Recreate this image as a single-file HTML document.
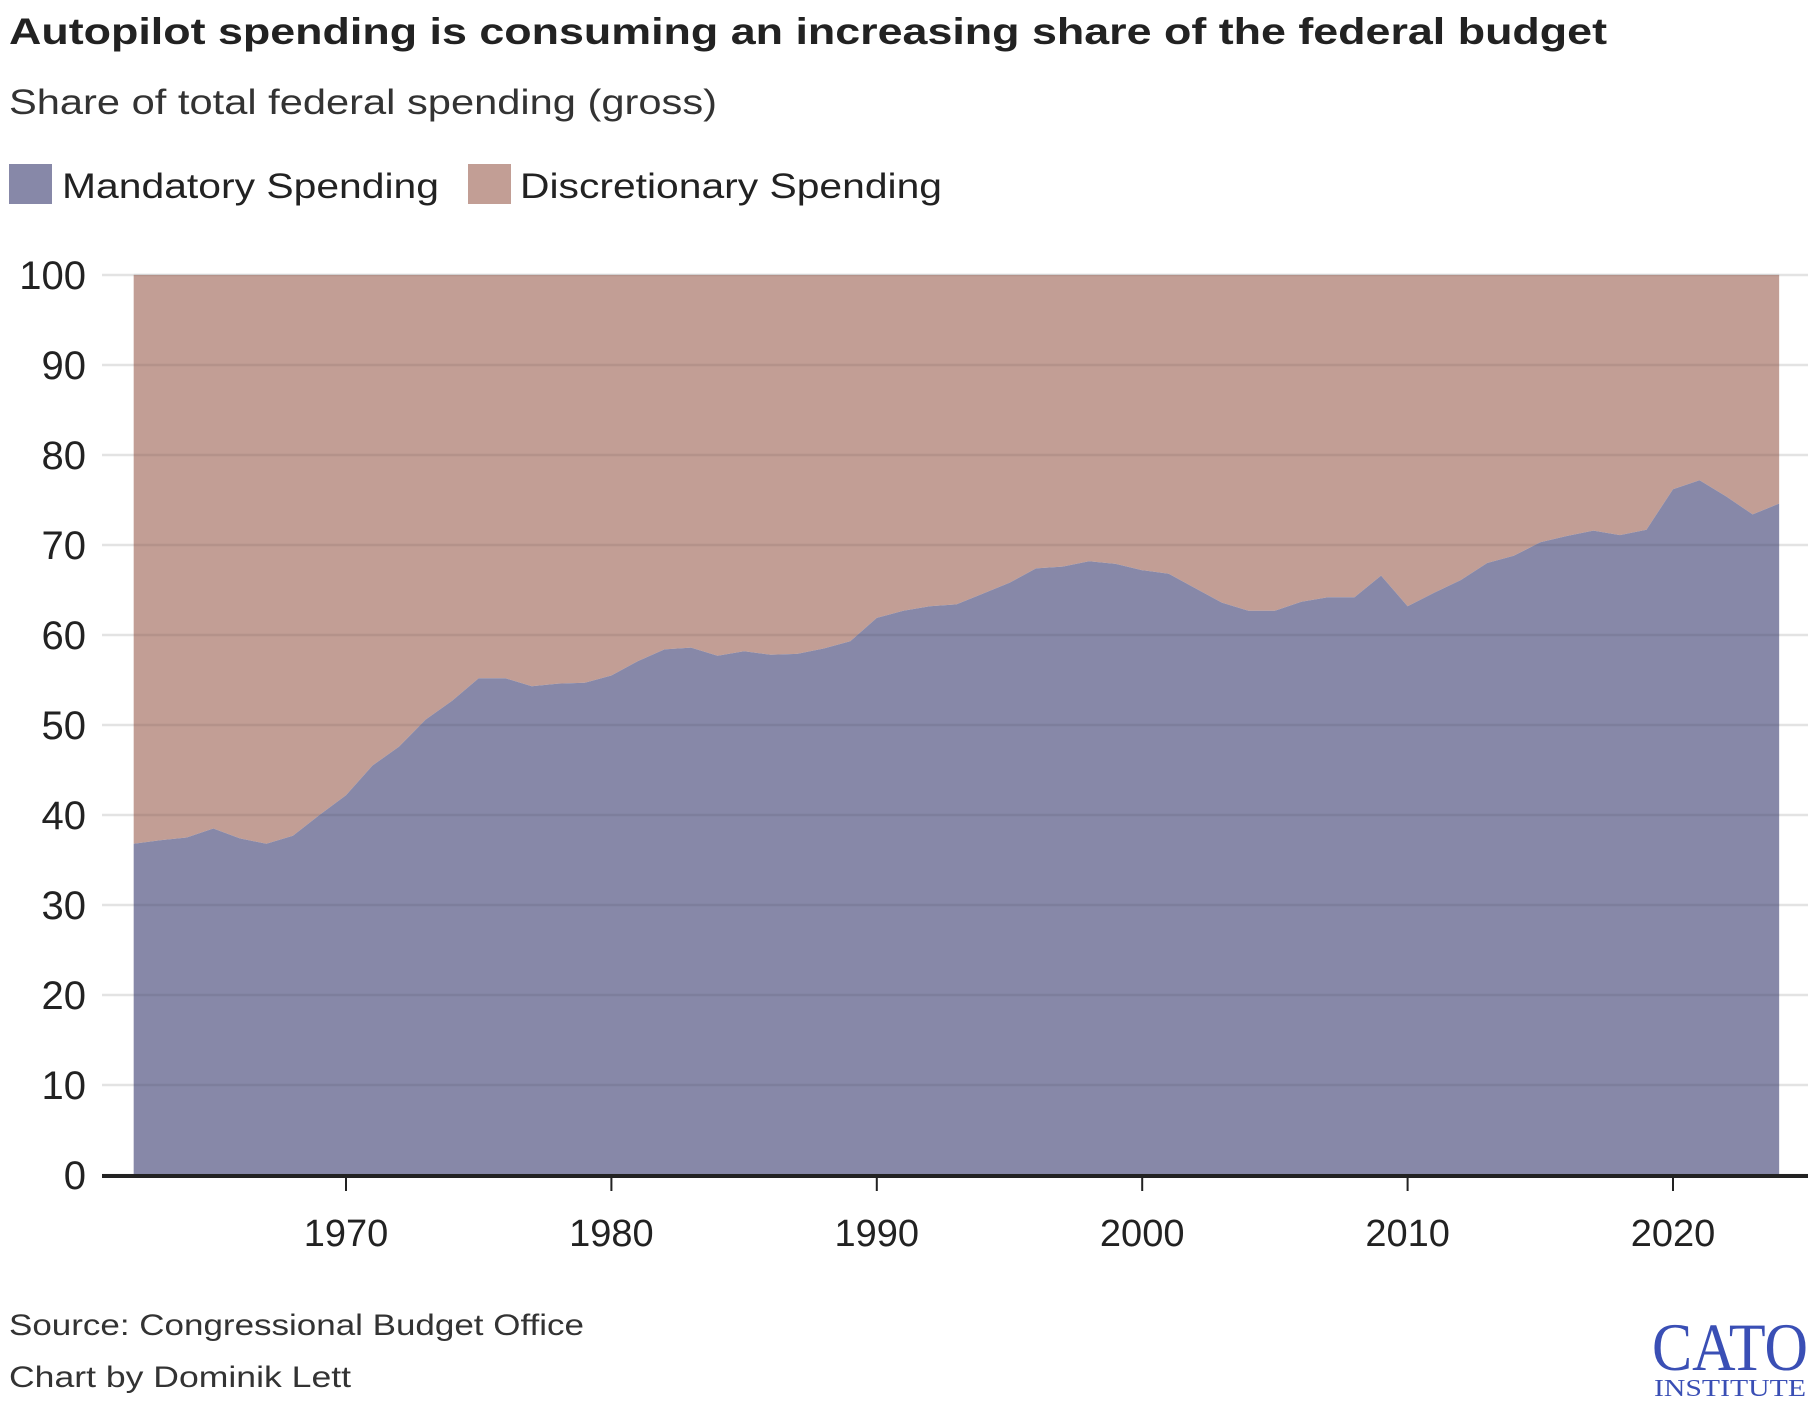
<!DOCTYPE html>
<html><head><meta charset="utf-8"><style>
html,body{margin:0;padding:0;background:#fff}
svg{display:block;font-family:"Liberation Sans",sans-serif}
</style></head><body>
<svg id="chart" width="1820" height="1409" viewBox="0 0 1820 1409" xmlns="http://www.w3.org/2000/svg">
<text x="9" y="44" font-size="37" font-weight="bold" fill="#222" textLength="1598" lengthAdjust="spacingAndGlyphs">Autopilot spending is consuming an increasing share of the federal budget</text>
<text x="9" y="114" font-size="35" fill="#333" textLength="708" lengthAdjust="spacingAndGlyphs">Share of total federal spending (gross)</text>
<g>
<rect x="9" y="164" width="43" height="40" fill="#8788a8"/>
<text x="62" y="198" font-size="35" fill="#222" textLength="377" lengthAdjust="spacingAndGlyphs">Mandatory Spending</text>
<rect x="468" y="164" width="43" height="40" fill="#c29e95"/>
<text x="520" y="198" font-size="35" fill="#222" textLength="422" lengthAdjust="spacingAndGlyphs">Discretionary Spending</text>
</g>
<g id="grid"></g>
<g id="areas"></g>
<g id="overgrid"></g>
<g id="axes"></g>
<text x="9" y="1335" font-size="30" fill="#333" textLength="575" lengthAdjust="spacingAndGlyphs">Source: Congressional Budget Office</text>
<text x="9" y="1387" font-size="30" fill="#333" textLength="342" lengthAdjust="spacingAndGlyphs">Chart by Dominik Lett</text>
<g>
<text x="1652" y="1370" font-family="Liberation Serif,serif" font-size="68" fill="#3a4fb5" textLength="156" lengthAdjust="spacingAndGlyphs">CATO</text>
<text x="1654" y="1396" font-family="Liberation Serif,serif" font-size="24" fill="#3a4fb5" textLength="152" lengthAdjust="spacingAndGlyphs">INSTITUTE</text>
</g>
</svg>
<script>
const years = [1962,1963,1964,1965,1966,1967,1968,1969,1970,1971,1972,1973,1974,1975,1976,1977,1978,1979,1980,1981,1982,1983,1984,1985,1986,1987,1988,1989,1990,1991,1992,1993,1994,1995,1996,1997,1998,1999,2000,2001,2002,2003,2004,2005,2006,2007,2008,2009,2010,2011,2012,2013,2014,2015,2016,2017,2018,2019,2020,2021,2022,2023,2024];
const mandatory = [36.8,37.2,37.5,38.5,37.4,36.8,37.7,40.0,42.2,45.5,47.6,50.6,52.7,55.2,55.2,54.3,54.6,54.7,55.5,57.1,58.4,58.6,57.7,58.2,57.8,57.9,58.5,59.3,61.9,62.7,63.2,63.4,64.6,65.8,67.4,67.6,68.2,67.9,67.2,66.8,65.2,63.6,62.7,62.7,63.7,64.2,64.2,66.6,63.2,64.7,66.1,68.0,68.8,70.3,71.0,71.6,71.1,71.7,76.2,77.2,75.4,73.4,74.6];
const yTicks = [0,10,20,30,40,50,60,70,80,90,100];
const xTicks = [1970,1980,1990,2000,2010,2020];
const NS="http://www.w3.org/2000/svg";
const X0=102,X1=1808;
function xs(yr){return 346+(yr-1970)*(1673-346)/50;}
function ys(v){return 1175-v*9;}
function mk(tag,attrs,parent){const e=document.createElementNS(NS,tag);for(const k in attrs)e.setAttribute(k,attrs[k]);parent.appendChild(e);return e;}
const gridG=document.getElementById('grid'),areasG=document.getElementById('areas'),overG=document.getElementById('overgrid'),axesG=document.getElementById('axes');
const firstX=xs(years[0]),lastX=xs(years[years.length-1]);
yTicks.forEach(t=>{
  const l=mk('line',{x1:X0,x2:X1,y1:ys(t),y2:ys(t),stroke:'#e3e3e3','stroke-width':2.5},gridG);
  
  
  const o=mk('line',{x1:firstX,x2:lastX,y1:ys(t),y2:ys(t),stroke:'rgba(0,0,0,0.07)','stroke-width':2.5},overG);
  
  
  const tx=mk('text',{x:86,y:ys(t)+14,'text-anchor':'end','font-size':40,fill:'#222'},axesG);
  tx.textContent=t;
  
  
});
let discPath='M'+firstX+','+ys(100)+' L'+lastX+','+ys(100);
for(let i=years.length-1;i>=0;i--)discPath+=' L'+xs(years[i])+','+ys(mandatory[i]);
const disc=mk('path',{d:discPath+' Z',fill:'#c29e95'},areasG);


let manPath='M'+firstX+','+ys(0);
for(let i=0;i<years.length;i++)manPath+=' L'+xs(years[i])+','+ys(mandatory[i]);
manPath+=' L'+lastX+','+ys(0)+' Z';
const man=mk('path',{d:manPath,fill:'#8788a8'},areasG);


const ax=mk('line',{x1:X0,x2:X1,y1:ys(0)+1,y2:ys(0)+1,stroke:'#222','stroke-width':4},axesG);


xTicks.forEach(t=>{
  const tk=mk('line',{x1:xs(t),x2:xs(t),y1:ys(0)+2,y2:ys(0)+16,stroke:'#222','stroke-width':2},axesG);
  
  
  const tx=mk('text',{x:xs(t),y:1246,'text-anchor':'middle','font-size':38,fill:'#222'},axesG);
  tx.textContent=t;
  
  
});
</script>
</body></html>
